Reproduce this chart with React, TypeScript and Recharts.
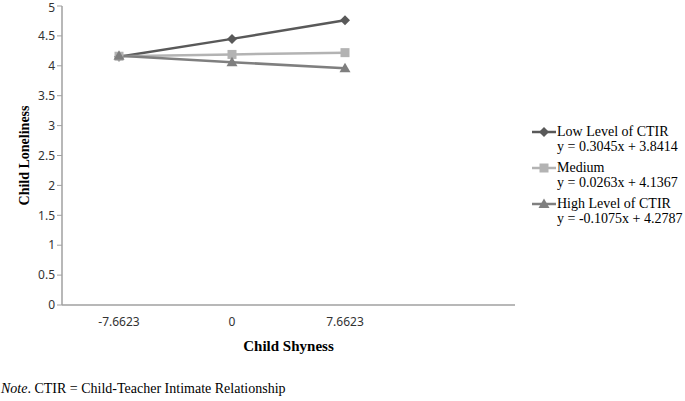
import { LineChart, Line, XAxis, YAxis } from 'recharts'

const shyness = ['-7.6623', '0', '7.6623', '']
const lowCTIR = [4.15, 4.45, 4.76, null]
const mediumCTIR = [4.16, 4.19, 4.22, null]
const highCTIR = [4.17, 4.06, 3.96, null]
const yTicks = [0, 0.5, 1, 1.5, 2, 2.5, 3, 3.5, 4, 4.5, 5]

const seriesInfo = [
  { key: 'low', name: 'Low Level of CTIR', eq: 'y = 0.3045x + 3.8414', color: '#595959', shape: 'diamond' },
  { key: 'medium', name: 'Medium', eq: 'y = 0.0263x + 4.1367', color: '#b3b3b3', shape: 'square' },
  { key: 'high', name: 'High Level of CTIR', eq: 'y = -0.1075x + 4.2787', color: '#7f7f7f', shape: 'triangle' },
]

const data = shyness.map((s, i) => ({
  shyness: s,
  low: lowCTIR[i],
  medium: mediumCTIR[i],
  high: highCTIR[i],
}))

const AXIS = '#a0a0a0'
const SERIF = '"Liberation Serif", "Times New Roman", serif'

function Marker({ shape, color, cx, cy }: { shape: string; color: string; cx: number; cy: number }) {
  if (shape === 'diamond') {
    return <polygon points={`${cx},${cy - 5} ${cx + 5},${cy} ${cx},${cy + 5} ${cx - 5},${cy}`} fill={color} />
  }
  if (shape === 'square') {
    return <rect x={cx - 4.5} y={cy - 4.5} width={9} height={9} fill={color} />
  }
  return <polygon points={`${cx},${cy - 5.5} ${cx + 5.5},${cy + 4} ${cx - 5.5},${cy + 4}`} fill={color} />
}

function makeDot(shape: string, color: string) {
  return (props: any) => {
    const { cx, cy, index } = props
    if (cx == null || cy == null || props.value == null) return <g key={index} />
    return <Marker key={index} shape={shape} color={color} cx={cx} cy={cy} />
  }
}

// legend sits outside the plot so it doesn't eat into the chart margin
function LegendBox() {
  return (
    <div
      style={{
        position: 'absolute',
        left: 531,
        top: 124,
        fontFamily: SERIF,
        fontSize: 14,
        color: '#000',
        lineHeight: '15px',
      }}
    >
      {seriesInfo.map((s) => (
        <div key={s.key} style={{ display: 'flex', marginBottom: 6 }}>
          <svg width={26} height={15} style={{ flexShrink: 0 }}>
            <line x1={1} y1={8} x2={25} y2={8} stroke={s.color} strokeWidth={2.5} />
            <Marker shape={s.shape} color={s.color} cx={13} cy={8} />
          </svg>
          <div>
            <div>{s.name}</div>
            <div>{s.eq}</div>
          </div>
        </div>
      ))}
    </div>
  )
}

export default function App() {
  return (
    <div style={{ position: 'absolute', left: 0, top: 0, width: 685, height: 401, background: '#fff' }}>
      <LineChart width={685} height={401} data={data} margin={{ top: 6, right: 170, left: 0, bottom: 46 }}>
        <XAxis
          dataKey="shyness"
          padding={{ left: 57, right: 57 }}
          axisLine={{ stroke: AXIS, strokeWidth: 1.5 }}
          tickLine={false}
          tick={{ fontSize: 12, fill: '#333', fontFamily: '"Noto Sans", sans-serif' }}
          tickMargin={6}
          height={50}
          label={{
            value: 'Child Shyness',
            position: 'insideBottom',
            offset: 4,
            style: { fontFamily: SERIF, fontWeight: 'bold', fontSize: 15, fill: '#000' },
          }}
        />
        <YAxis
          domain={[0, 5]}
          ticks={yTicks}
          width={62}
          axisLine={{ stroke: AXIS, strokeWidth: 1.5 }}
          tickLine={{ stroke: AXIS }}
          tickSize={5}
          tick={{ fontSize: 12, fill: '#333', fontFamily: '"Noto Sans", sans-serif' }}
          label={{
            value: 'Child Loneliness',
            angle: -90,
            position: 'insideLeft',
            offset: 24,
            style: { textAnchor: 'middle', fontFamily: SERIF, fontWeight: 'bold', fontSize: 14, fill: '#000' },
          }}
        />
        {seriesInfo.map((s) => (
          <Line
            key={s.key}
            dataKey={s.key}
            name={s.name}
            stroke={s.color}
            strokeWidth={2.5}
            dot={makeDot(s.shape, s.color)}
            activeDot={false}
            isAnimationActive={false}
          />
        ))}
      </LineChart>
      <LegendBox />
      <div style={{ position: 'absolute', left: 1, top: 381, fontFamily: SERIF, fontSize: 14, color: '#000' }}>
        <i>Note</i>. CTIR = Child-Teacher Intimate Relationship
      </div>
    </div>
  )
}
